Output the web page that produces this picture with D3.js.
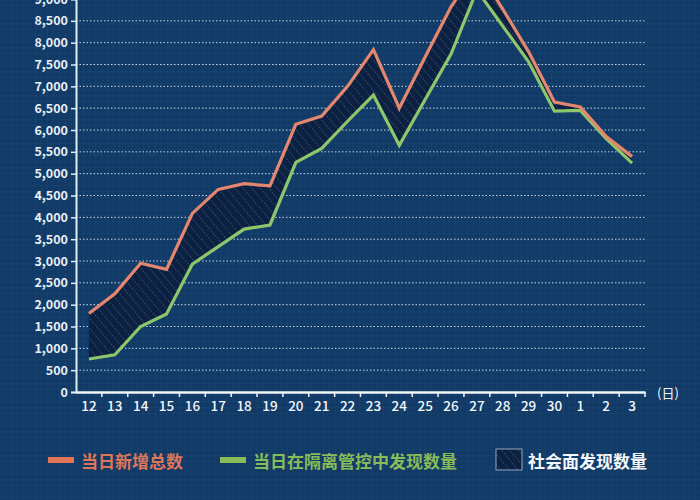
<!DOCTYPE html>
<html>
<head>
<meta charset="utf-8">
<script src="https://cdn.jsdelivr.net/npm/d3@7"></script>
<style>
  html, body { margin: 0; padding: 0; background: #113a67; }
  svg { display: block; }
</style>
</head>
<body>
<div id="chart"></div>
<script>
var days = ['12','13','14','15','16','17','18','19','20','21','22','23','24','25','26','27','28','29','30','1','2','3'];
var totalNew = [1800, 2250, 2950, 2810, 4090, 4640, 4770, 4720, 6130, 6320, 7000, 7840, 6500, 7670, 8820, 9700, 8770, 7790, 6640, 6530, 5850, 5390];
var inControl = [755, 850, 1500, 1785, 2930, 3330, 3730, 3825, 5260, 5580, 6200, 6800, 5650, 6700, 7740, 9200, 8380, 7560, 6430, 6450, 5800, 5240];
var yTicks = d3.range(0, 9001, 500);
var legendItems = ['当日新增总数', '当日在隔离管控中发现数量', '社会面发现数量'];

(function() {
  var W = 700, H = 500;
  var FONT = '"Noto Sans CJK SC", "Noto Sans", sans-serif';
  var RED = '#e5866f', GREEN = '#8ec66c';

  var svg = d3.select('#chart').append('svg').attr('width', W).attr('height', H);
  var defs = svg.append('defs');

  // blueprint background texture
  var bg = defs.append('pattern').attr('id', 'bggrid').attr('patternUnits', 'userSpaceOnUse')
    .attr('width', 6).attr('height', 6);
  bg.append('rect').attr('width', 6).attr('height', 6).attr('fill', '#113a67');
  bg.append('path').attr('d', 'M6 0V6M0 6H6').attr('stroke', 'rgba(120,170,220,0.08)').attr('stroke-width', 1);
  svg.append('rect').attr('width', W).attr('height', H).attr('fill', 'url(#bggrid)');

  // hatch for the gap
  var hatch = defs.append('pattern').attr('id', 'hatch').attr('patternUnits', 'userSpaceOnUse')
    .attr('width', 6.5).attr('height', 6.5).attr('patternTransform', 'rotate(-40)');
  hatch.append('rect').attr('width', 6.5).attr('height', 6.5).attr('fill', '#0c2141');
  hatch.append('line').attr('x1', 0).attr('y1', 0).attr('x2', 0).attr('y2', 6.5)
    .attr('stroke', 'rgba(185,210,238,0.5)').attr('stroke-width', 1).attr('stroke-dasharray', '1.6,1.6');

  var x = d3.scaleBand().domain(days).range([76, 645]);
  var cx = function(d) { return x(d) + x.bandwidth() / 2; };
  var y = d3.scaleLinear().domain([0, 9000]).range([392, -1]);

  // dotted grid lines
  svg.append('g').selectAll('line').data(yTicks.slice(1)).join('line')
    .attr('x1', 76).attr('x2', 645)
    .attr('y1', function(d) { return y(d); }).attr('y2', function(d) { return y(d); })
    .attr('stroke', 'rgba(235,240,250,0.85)').attr('stroke-width', 1).attr('stroke-dasharray', '1.5,2');

  var rows = days.map(function(d, i) { return { day: d, total: totalNew[i], ctrl: inControl[i] }; });

  var area = d3.area().x(function(d) { return cx(d.day); })
    .y0(function(d) { return y(d.ctrl); }).y1(function(d) { return y(d.total); });
  svg.append('path').datum(rows).attr('d', area).attr('fill', 'url(#hatch)');

  var lineCtrl = d3.line().x(function(d) { return cx(d.day); }).y(function(d) { return y(d.ctrl); });
  var lineTotal = d3.line().x(function(d) { return cx(d.day); }).y(function(d) { return y(d.total); });
  svg.append('path').datum(rows).attr('d', lineCtrl).attr('fill', 'none')
    .attr('stroke', GREEN).attr('stroke-width', 3.2).attr('stroke-linejoin', 'miter');
  svg.append('path').datum(rows).attr('d', lineTotal).attr('fill', 'none')
    .attr('stroke', RED).attr('stroke-width', 3.2).attr('stroke-linejoin', 'miter');

  // y axis
  var gy = svg.append('g').attr('transform', 'translate(76,0)')
    .call(d3.axisLeft(y).tickValues(yTicks).tickSize(5).tickPadding(3).tickFormat(d3.format(',')));
  gy.select('.domain').attr('stroke', '#dcefee').attr('stroke-width', 2);
  gy.selectAll('.tick line').attr('stroke', '#dcefee').attr('stroke-width', 1.5);
  gy.selectAll('.tick text').attr('fill', '#e8f0f6').attr('font-size', '12.5px')
    .attr('font-family', FONT).attr('font-weight', 'bold');

  // x axis
  var gx = svg.append('g').attr('transform', 'translate(0,392)')
    .call(d3.axisBottom(x).tickSize(0).tickPadding(9));
  gx.select('.domain').attr('stroke', '#f2f6f8').attr('stroke-width', 2.5);
  gx.selectAll('.tick text').attr('fill', '#f2f6fa').attr('font-size', '13.5px')
    .attr('font-family', FONT).attr('font-weight', 500);
  gx.selectAll('line.sep').data(days.slice(1).concat(['end'])).join('line').attr('class', 'sep')
    .attr('x1', function(d) { return d === 'end' ? 645 : x(d); })
    .attr('x2', function(d) { return d === 'end' ? 645 : x(d); })
    .attr('y1', 0).attr('y2', 5).attr('stroke', '#f2f6f8').attr('stroke-width', 1.5);
  svg.append('text').attr('x', 657).attr('y', 392).attr('dominant-baseline', 'central')
    .attr('fill', '#f2f6fa').attr('font-size', '13px').attr('font-family', FONT).text('(日)');

  // legend
  var lg = svg.append('g').attr('transform', 'translate(0,460)');
  lg.append('rect').attr('x', 48).attr('y', -3).attr('width', 26).attr('height', 6).attr('fill', '#e07557');
  lg.append('text').attr('x', 81).attr('y', 0).attr('dominant-baseline', 'central')
    .attr('fill', '#e07557').attr('font-size', '17px').attr('font-weight', 'bold').attr('font-family', FONT)
    .text(legendItems[0]);
  lg.append('rect').attr('x', 220).attr('y', -3).attr('width', 26).attr('height', 6).attr('fill', '#88bc58');
  lg.append('text').attr('x', 253).attr('y', 0).attr('dominant-baseline', 'central')
    .attr('fill', '#88bc58').attr('font-size', '17px').attr('font-weight', 'bold').attr('font-family', FONT)
    .text(legendItems[1]);
  lg.append('rect').attr('x', 496).attr('y', -11).attr('width', 26).attr('height', 21)
    .attr('fill', 'url(#hatch)').attr('stroke', 'rgba(200,220,240,0.7)').attr('stroke-width', 1);
  lg.append('text').attr('x', 528).attr('y', 0).attr('dominant-baseline', 'central')
    .attr('fill', '#f4f7fa').attr('font-size', '17px').attr('font-weight', 'bold').attr('font-family', FONT)
    .text(legendItems[2]);
})();
</script>
</body>
</html>
